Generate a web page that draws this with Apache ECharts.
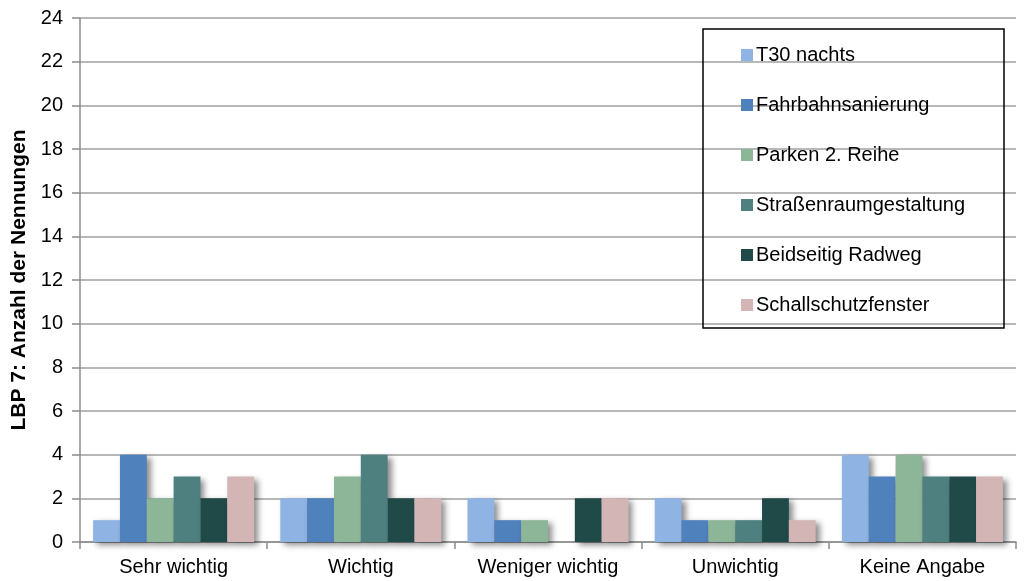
<!DOCTYPE html>
<html>
<head>
<meta charset="utf-8">
<script src="https://cdn.jsdelivr.net/npm/echarts@6/dist/echarts.min.js"></script>
<style>
  html, body { margin: 0; padding: 0; background: #fff; }
  #chart { width: 1024px; height: 581px; }
</style>
</head>
<body>
<div id="chart"></div>
<script>
// Kategorien (x-Achse)
const categories = ['Sehr wichtig', 'Wichtig', 'Weniger wichtig', 'Unwichtig', 'Keine Angabe'];

// Anzahl der Nennungen je Maßnahme
const t30Nachts = [1, 2, 2, 2, 4];
const fahrbahnsanierung = [4, 2, 1, 1, 3];
const parken2Reihe = [2, 3, 1, 1, 4];
const strassenraum = [3, 4, 0, 1, 3];
const radweg = [2, 2, 2, 2, 3];
const schallschutz = [3, 2, 2, 1, 3];

const seriesDefs = [
    { name: 'T30 nachts', data: t30Nachts, color: '#8fb3e2' },
    { name: 'Fahrbahnsanierung', data: fahrbahnsanierung, color: '#4f81bd' },
    { name: 'Parken 2. Reihe', data: parken2Reihe, color: '#8db597' },
    { name: 'Straßenraumgestaltung', data: strassenraum, color: '#4e8080' },
    { name: 'Beidseitig Radweg', data: radweg, color: '#204a48' },
    { name: 'Schallschutzfenster', data: schallschutz, color: '#d3b5b6' }
];

const chart = echarts.init(document.getElementById('chart'));
const font = 'Liberation Sans, Arial, sans-serif';

const option = {
    animation: false,
    textStyle: { fontFamily: font },
    grid: { left: 80, top: 18, right: 8, bottom: 39 },
    legend: {
        orient: 'vertical',
        left: 703,
        top: 29,
        padding: [16, 39, 13, 38],
        borderColor: '#000',
        borderWidth: 1.5,
        itemWidth: 12,
        itemHeight: 12,
        itemGap: 30,
        icon: 'rect',
        textStyle: { fontFamily: font, fontSize: 20, color: '#000', lineHeight: 20, padding: [0, 0, 0, -2] },
        data: seriesDefs.map(s => s.name)
    },
    xAxis: {
        type: 'category',
        data: categories,
        axisLine: { lineStyle: { color: '#8c8c8c', width: 1.5 } },
        axisTick: { show: true, length: 7, lineStyle: { color: '#8c8c8c', width: 1.5 } },
        axisLabel: { color: '#000', fontSize: 20, margin: 15, fontFamily: font }
    },
    yAxis: {
        type: 'value',
        min: 0,
        max: 24,
        interval: 2,
        name: 'LBP 7: Anzahl der Nennungen',
        nameLocation: 'middle',
        nameGap: 43,
        nameTextStyle: { color: '#000', fontSize: 21, fontWeight: 'bold', fontFamily: font },
        axisLine: { show: true, lineStyle: { color: '#8c8c8c', width: 1.5 } },
        axisTick: { show: true, length: 8, lineStyle: { color: '#8c8c8c', width: 1.5 } },
        axisLabel: { color: '#000', fontSize: 20, margin: 17, fontFamily: font },
        splitLine: { lineStyle: { color: '#a0a0a0', width: 1.5 } }
    },
    series: seriesDefs.map(s => ({
        name: s.name,
        type: 'bar',
        data: s.data,
        barGap: '0%',
        barCategoryGap: '14%',
        itemStyle: {
            color: s.color,
            shadowColor: 'rgba(0,0,0,0.45)',
            shadowBlur: 6,
            shadowOffsetX: 4,
            shadowOffsetY: 3
        }
    }))
};

chart.setOption(option);
window.addEventListener('resize', () => chart.resize());
</script>
</body>
</html>
